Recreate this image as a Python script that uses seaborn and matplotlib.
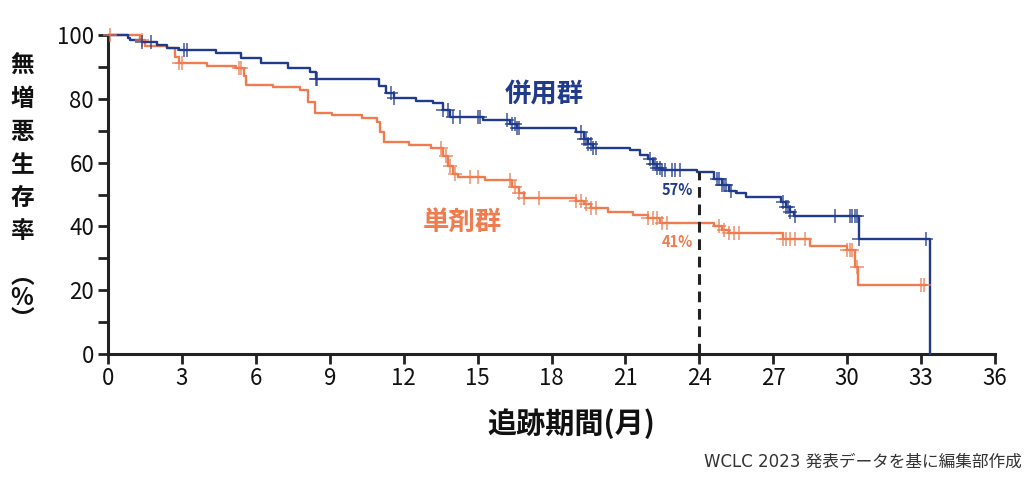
import numpy as np
import pandas as pd
import matplotlib
matplotlib.use("Agg")
import matplotlib.pyplot as plt
import seaborn as sns

# ---- data ----
combo_time = [0, 0.8, 0.9, 1.4, 2.0, 2.4, 2.9, 4.4, 5.4, 6.2, 7.3, 8.2, 8.45, 11.0, 11.3, 11.6,
              12.5, 13.2, 13.6, 13.9, 15.2, 16.3, 16.6, 19.0, 19.3, 19.5, 19.7, 21.2, 21.6, 21.9,
              22.1, 22.3, 22.5, 23.9, 24.6, 24.9, 25.2, 25.5, 25.9, 27.3, 27.5, 27.7, 27.85,
              30.5, 33.35]
combo_surv = [100, 99.0, 98.4, 97.8, 96.9, 95.9, 95.3, 94.4, 92.8, 91.2, 89.7, 88.4, 86.2, 84.0, 81.8,
              80.3, 79.3, 78.7, 76.5, 74.3, 73.4, 72.0, 70.8, 69.5, 67.5, 65.8, 64.6, 64.0, 62.5,
              61.0, 59.5, 58.2, 57.7, 57.2, 55.0, 53.0, 51.0, 50.5, 49.2, 47.5, 46.0, 44.5, 43.3,
              36.0, 0]
combo_cens = [1.4, 1.75, 3.1, 3.2, 8.45, 8.5, 11.5, 11.6, 13.6, 13.8, 14.0, 14.3, 15.0, 15.1, 16.2,
              16.4, 16.5, 16.6, 16.7, 19.2, 19.3, 19.4, 19.5, 19.6, 19.7, 19.8, 22.0, 22.1, 22.2,
              22.3, 22.4, 22.5, 22.6, 22.9, 23.0, 23.2, 24.7, 24.8, 24.9, 25.0, 25.1, 25.3, 27.4,
              27.5, 27.6, 27.7, 27.9, 29.5, 30.1, 30.2, 30.3, 30.4, 30.5, 33.2]

mono_time = [0, 1.3, 1.5, 2.4, 2.7, 2.9, 4.0, 5.2, 5.5, 5.6, 6.7, 7.8, 8.1, 8.4, 9.1, 10.3, 10.9,
             11.05, 11.2, 12.2, 13.1, 13.6, 13.8, 14.0, 14.2, 15.3, 16.4, 16.7, 16.9, 19.0, 19.3,
             19.6, 20.3, 21.3, 21.9, 22.4, 24.6, 24.9, 25.2, 27.4, 28.5, 30.0, 30.3, 30.45, 33.2]
mono_surv = [100, 98.4, 96.5, 95.9, 93.0, 91.2, 90.3, 89.7, 87.0, 84.3, 83.7, 82.8, 79.0, 75.5, 75.0,
             74.0, 72.7, 69.5, 66.5, 65.5, 64.6, 62.0, 59.0, 56.5, 55.5, 54.5, 52.5, 50.5, 49.0,
             48.0, 47.0, 45.8, 44.5, 43.6, 42.5, 41.0, 40.0, 39.0, 37.9, 36.0, 33.9, 32.6, 27.3,
             21.6, 21.6]
mono_cens = [0.1, 1.4, 2.9, 3.0, 5.3, 5.4, 13.5, 13.7, 13.9, 14.1, 14.7, 15.0, 16.3, 16.5, 16.7, 16.9,
             17.5, 19.0, 19.2, 19.4, 19.6, 19.8, 21.9, 22.1, 22.3, 22.5, 22.7, 24.8, 25.0, 25.2, 25.4,
             25.6, 27.4, 27.5, 27.7, 27.9, 28.3, 30.0, 30.1, 30.2, 30.4, 33.0, 33.1]

x_ticks = list(range(0, 37, 3))
y_ticks = list(range(0, 101, 20))
y_minor = list(range(10, 100, 20))

combo_name = "併用群"
mono_name = "単剤群"
combo_pct = "57%"
mono_pct = "41%"
landmark = 24
xlabel = "追跡期間(月)"
ylabel_chars = ["無", "増", "悪", "生", "存", "率"]
source = "WCLC 2023 発表データを基に編集部作成"

BLUE = "#213b8c"
ORANGE = "#ef7b4e"
DARK = "#222222"

sns.set_theme(style="ticks")
plt.rcParams["font.family"] = ["Noto Sans CJK JP", "DejaVu Sans"]


def step_value(times, surv, t):
    i = np.searchsorted(np.asarray(times), t, side="right") - 1
    return np.asarray(surv)[i]


fig = plt.figure(figsize=(10.29, 4.86), dpi=100)
ax = fig.add_axes([108 / 1029, 1 - 354 / 486, (995 - 108) / 1029, (354 - 35) / 486])

combo_df = pd.DataFrame({"t": combo_time, "s": combo_surv})
mono_df = pd.DataFrame({"t": mono_time, "s": mono_surv})

sns.lineplot(data=combo_df, x="t", y="s", ax=ax, color=BLUE, lw=1.7,
             drawstyle="steps-post", estimator=None, clip_on=False, zorder=3)
sns.lineplot(data=mono_df, x="t", y="s", ax=ax, color=ORANGE, lw=1.7,
             drawstyle="steps-post", estimator=None, clip_on=False, zorder=2)

cdf = pd.DataFrame({"t": combo_cens, "s": [step_value(combo_time, combo_surv, c) for c in combo_cens]})
mdf = pd.DataFrame({"t": mono_cens, "s": [step_value(mono_time, mono_surv, c) for c in mono_cens]})
sns.scatterplot(data=cdf, x="t", y="s", ax=ax, marker="+", s=90, color=BLUE, linewidth=1.1,
                alpha=0.85, clip_on=False, zorder=4)
sns.scatterplot(data=mdf, x="t", y="s", ax=ax, marker="+", s=90, color=ORANGE, linewidth=1.1,
                alpha=0.85, clip_on=False, zorder=3)

# landmark dashed line
lm_val = step_value(combo_time, combo_surv, landmark - 0.001)
ax.plot([landmark, landmark], [0, lm_val], color=DARK, lw=2.2, ls=(0, (3.5, 2.2)), zorder=5)

ax.set_xlim(0, 36)
ax.set_ylim(0, 100)
ax.set_xticks(x_ticks)
ax.set_xticklabels([str(v) for v in x_ticks])
ax.set_yticks(y_ticks)
ax.set_yticklabels([str(v) for v in y_ticks])
ax.set_yticks(y_minor, minor=True)
ax.tick_params(axis="both", which="both", direction="out", length=7, width=2, color=DARK)
ax.tick_params(axis="both", labelsize=16, labelcolor="#111111")
ax.tick_params(axis="y", pad=3)
ax.tick_params(axis="x", pad=2)
ax.set_xlabel("")
ax.set_ylabel("")
sns.despine(ax=ax)
for sp in ["left", "bottom"]:
    ax.spines[sp].set_linewidth(2.2)
    ax.spines[sp].set_color(DARK)

# group labels
ax.text(17.7, 81.2, combo_name, color=BLUE, fontsize=19, fontweight="bold", ha="center", va="center")
ax.text(14.4, 41.4, mono_name, color=ORANGE, fontsize=19, fontweight="bold", ha="center", va="center")
ax.text(23.1, 51.5, combo_pct, color=BLUE, fontsize=10.5, fontweight="bold", ha="center", va="center")
ax.text(23.1, 35.0, mono_pct, color=ORANGE, fontsize=10.5, fontweight="bold", ha="center", va="center")

# axis titles
fig.text(571 / 1029, 1 - 424 / 486, xlabel, fontsize=21, fontweight="bold", ha="center", va="center",
         color="#111111")
for i, ch in enumerate(ylabel_chars):
    fig.text(22 / 1029, 1 - (66 + 33 * i) / 486, ch, fontsize=17, fontweight="bold",
             ha="center", va="center", color="#111111")
fig.text(22 / 1029, 1 - 276 / 486, "︵", fontsize=17, fontweight="bold", ha="center", va="center",
         color="#111111")
fig.text(22 / 1029, 1 - 298 / 486, "%", fontsize=17, fontweight="bold", ha="center", va="center",
         color="#111111")
fig.text(22 / 1029, 1 - 320 / 486, "︶", fontsize=17, fontweight="bold", ha="center", va="center",
         color="#111111")

fig.text(1022 / 1029, 1 - 462 / 486, source, fontsize=12, ha="right", va="center", color="#333333",
         family=["DejaVu Sans", "Noto Sans CJK JP"])

fig.savefig("out.png", dpi=100, facecolor="white")
